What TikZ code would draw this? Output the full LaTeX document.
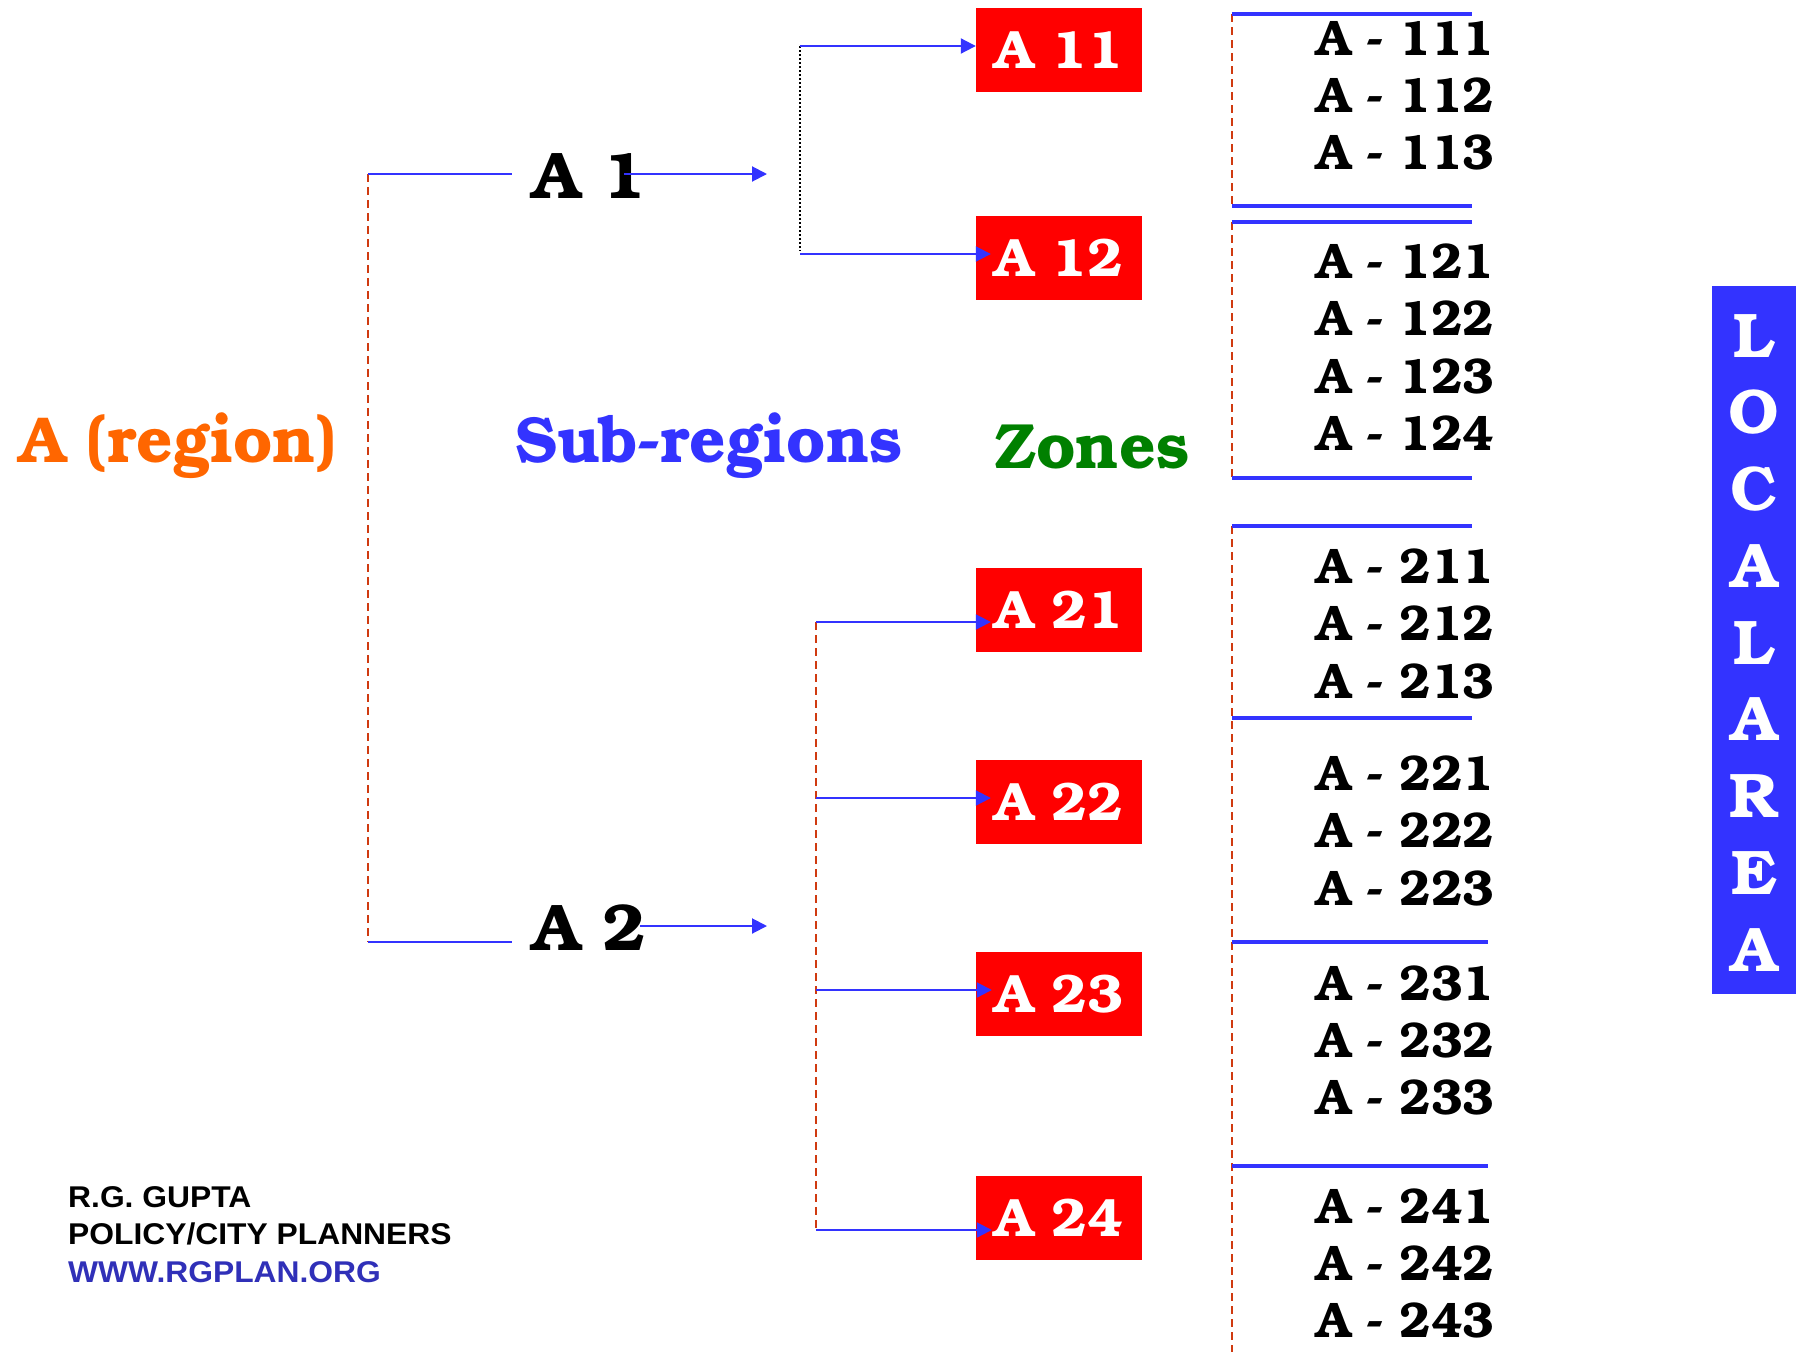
\documentclass[tikz,border=0pt]{standalone}
\usepackage{fontspec}
\usetikzlibrary{arrows.meta}
\newfontfamily\bk{TeX Gyre Bonum}
\newfontfamily\bkn[FakeStretch=0.95]{TeX Gyre Bonum}
\newfontfamily\bkt[FakeStretch=0.98]{TeX Gyre Bonum}
\newfontfamily\arl[FakeStretch=1.06]{Liberation Sans}
\definecolor{lblue}{HTML}{3333FF}
\definecolor{dashc}{HTML}{D03A10}
\definecolor{orng}{HTML}{FF6600}
\definecolor{grn}{HTML}{008000}
\definecolor{wblue}{HTML}{3030B8}
\definecolor{boxred}{HTML}{FF0000}
\tikzset{
  dashline/.style={draw=dashc, line width=2pt, dash pattern=on 8pt off 5pt},
  dotline/.style={draw=black, line width=2pt, dash pattern=on 2pt off 2pt},
  bline/.style={draw=lblue, line width=2pt},
  zline/.style={draw=lblue, line width=3.5pt},
  arr/.style={bline, -{Triangle[length=15pt,width=15pt]}},
  redbox/.style={fill=boxred, minimum width=166pt, minimum height=84pt, inner sep=0pt, text=white, font=\bk\bfseries\fontsize{54}{54}\selectfont},
  bigtxt/.style={anchor=base west, inner sep=0pt, font=\bkt\bfseries\fontsize{65}{65}\selectfont},
  ztxt/.style={anchor=base west, inner sep=0pt, font=\bkn\bfseries\fontsize{50}{50}\selectfont},
  laltr/.style={anchor=base, inner sep=0pt, text=white, font=\bk\bfseries\fontsize{63}{63}\selectfont},
  credit/.style={anchor=base west, inner sep=0pt, font=\arl\bfseries\fontsize{30}{30}\selectfont}
}
\begin{document}
\begin{tikzpicture}[x=1pt,y=-1pt]
\useasboundingbox (0,0) rectangle (1796,1352);

% titles
\node[bigtxt, text=orng] (region) at (19,462) {A (region)};
\node[bigtxt, text=lblue] (subreg) at (515,462) {Sub-regions};
\node[bigtxt, text=grn, font=\bk\bfseries\fontsize{64}{64}\selectfont] (zones) at (995,468) {Zones};

% region to sub-regions
\coordinate (r1) at (368,174);
\coordinate (r2) at (368,942);
\coordinate (r1e) at (512,174);
\coordinate (r2e) at (512,942);
\draw[dashline] (r1) -- (r2);
\draw[bline] (r1) -- (r1e);
\draw[bline] (r2) -- (r2e);

\node[bigtxt, font=\bk\bfseries\fontsize{66}{66}\selectfont] (A1) at (532,198) {A 1};
\node[bigtxt, font=\bk\bfseries\fontsize{66}{66}\selectfont] (A2) at (532,950) {A 2};

\coordinate (a1s) at (624,174);
\coordinate (a1e) at (767,174);
\coordinate (a2s) at (640,926);
\coordinate (a2e) at (767,926);
\draw[arr] (a1s) -- (a1e);
\draw[arr] (a2s) -- (a2e);

% zone boxes
\node[redbox] (A11) at (1059,50) {A 11};
\node[redbox] (A12) at (1059,258) {A 12};
\node[redbox] (A21) at (1059,610) {A 21};
\node[redbox] (A22) at (1059,802) {A 22};
\node[redbox] (A23) at (1059,994) {A 23};
\node[redbox] (A24) at (1059,1218) {A 24};

% upper branch
\coordinate (d1) at (800,46);
\coordinate (d2) at (800,251);
\coordinate (d3) at (800,254);
\draw[dotline] (d1) -- (d2);
\draw[arr] (d1) -- (A11.west |- d1);
\draw[arr] (d3) -- ([xshift=15pt]A12.west |- d3);

% lower branch
\coordinate (m1) at (816,622);
\coordinate (m2) at (816,798);
\coordinate (m3) at (816,990);
\coordinate (m4) at (816,1230);
\draw[dashline] (m1) -- (m4);
\draw[arr] (m1) -- ([xshift=15pt]A21.west |- m1);
\draw[arr] (m2) -- ([xshift=15pt]A22.west |- m2);
\draw[arr] (m3) -- ([xshift=16pt]A23.west |- m3);
\draw[arr] (m4) -- ([xshift=16pt]A24.west |- m4);

% local area column
\coordinate (z1) at (1232,14);
\coordinate (z2) at (1232,206);
\coordinate (z3) at (1232,222);
\coordinate (z4) at (1232,478);
\coordinate (z5) at (1232,526);
\coordinate (z6) at (1232,718);
\coordinate (z7) at (1232,942);
\coordinate (z8) at (1232,1166);
\coordinate (z9) at (1232,1352);
\draw[dashline] (z1) -- (z2);
\draw[dashline] (z3) -- (z4);
\draw[dashline] (z5) -- (z9);
\coordinate (e1) at (1472,14);
\coordinate (e2) at (1472,206);
\coordinate (e3) at (1472,222);
\coordinate (e4) at (1472,478);
\coordinate (e5) at (1472,526);
\coordinate (e6) at (1472,718);
\coordinate (e7) at (1488,942);
\coordinate (e8) at (1488,1166);
\draw[zline] (z1) -- (e1);
\draw[zline] (z2) -- (e2);
\draw[zline] (z3) -- (e3);
\draw[zline] (z4) -- (e4);
\draw[zline] (z5) -- (e5);
\draw[zline] (z6) -- (e6);
\draw[zline] (z7) -- (e7);
\draw[zline] (z8) -- (e8);

\node[ztxt] (l111) at (1316,55) {A - 111};
\node[ztxt] (l112) at (1316,112) {A - 112};
\node[ztxt] (l113) at (1316,169) {A - 113};
\node[ztxt] (l121) at (1316,278) {A - 121};
\node[ztxt] (l122) at (1316,335) {A - 122};
\node[ztxt] (l123) at (1316,393) {A - 123};
\node[ztxt] (l124) at (1316,450) {A - 124};
\node[ztxt] (l211) at (1316,583) {A - 211};
\node[ztxt] (l212) at (1316,640) {A - 212};
\node[ztxt] (l213) at (1316,698) {A - 213};
\node[ztxt] (l221) at (1316,790) {A - 221};
\node[ztxt] (l222) at (1316,847) {A - 222};
\node[ztxt] (l223) at (1316,905) {A - 223};
\node[ztxt] (l231) at (1316,1000) {A - 231};
\node[ztxt] (l232) at (1316,1057) {A - 232};
\node[ztxt] (l233) at (1316,1114) {A - 233};
\node[ztxt] (l241) at (1316,1223) {A - 241};
\node[ztxt] (l242) at (1316,1280) {A - 242};
\node[ztxt] (l243) at (1316,1337) {A - 243};

% LOCAL AREA bar
\fill[lblue] (1712,286) rectangle (1796,994);
\node[laltr] (la1) at (1754,357) {L};
\node[laltr] (la2) at (1754,433.75) {O};
\node[laltr] (la3) at (1754,510.5) {C};
\node[laltr] (la4) at (1754,587.25) {A};
\node[laltr] (la5) at (1754,664) {L};
\node[laltr] (la6) at (1754,740.75) {A};
\node[laltr] (la7) at (1754,817.5) {R};
\node[laltr] (la8) at (1754,894.25) {E};
\node[laltr] (la9) at (1754,971) {A};

% credit
\node[credit] (c1) at (68,1207) {R.G. GUPTA};
\node[credit] (c2) at (68,1244) {POLICY/CITY PLANNERS};
\node[credit, text=wblue] (c3) at (68,1282) {WWW.RGPLAN.ORG};
\end{tikzpicture}
\end{document}
